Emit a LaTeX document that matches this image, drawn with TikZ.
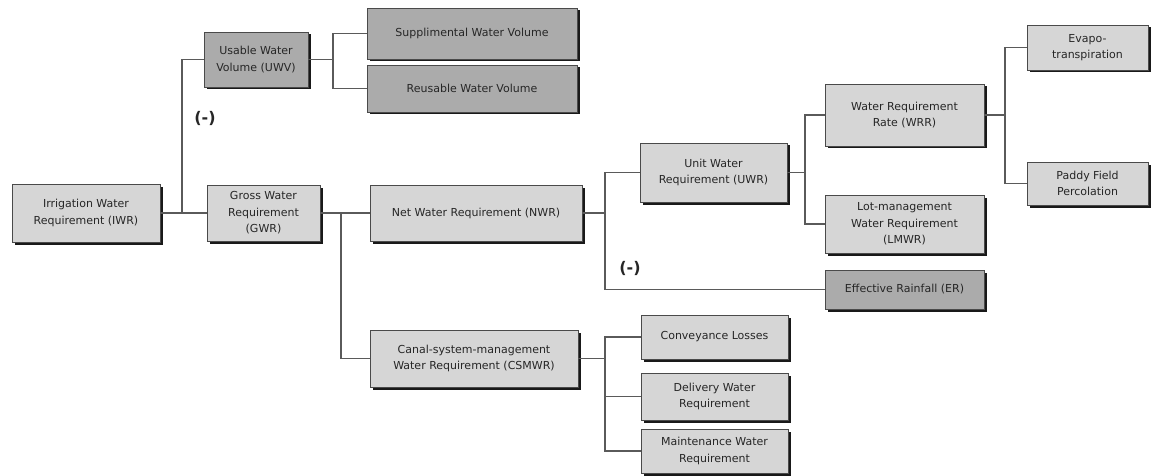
\documentclass[tikz,border=0pt]{standalone}
\usepackage{fontspec}
\setmainfont{DejaVu Sans}
\usetikzlibrary{shadows}
\definecolor{boxlight}{HTML}{D6D6D6}
\definecolor{boxdark}{HTML}{ABABAB}
\definecolor{edgecol}{HTML}{4A4A4A}
\definecolor{linecol}{HTML}{5A5A5A}
\definecolor{txtcol}{HTML}{262626}
\tikzset{
  box/.style={draw=edgecol, line width=0.9pt, fill=boxlight, rectangle, inner sep=0pt,
    align=center, text=txtcol, font=\fontsize{11}{16.5}\selectfont,
    drop shadow={shadow xshift=2.5pt, shadow yshift=-2.5pt, fill=black!90, opacity=1}},
  darkbox/.style={box, fill=boxdark},
  conn/.style={draw=linecol, line width=1.4pt},
  minus/.style={font=\fontsize{16}{16}\selectfont\bfseries, text=black!85}
}
\begin{document}
\begin{tikzpicture}[x=1pt, y=-1pt]
\useasboundingbox (0,0) rectangle (1151,476);
% nodes
\node[box, minimum width=148pt, minimum height=58pt] (iwr) at (86,213) {Irrigation Water\\Requirement (IWR)};
\node[darkbox, minimum width=104pt, minimum height=55pt] (uwv) at (256,59.5) {Usable Water\\Volume (UWV)};
\node[darkbox, minimum width=210pt, minimum height=51pt] (supp) at (472,33.5) {Supplimental Water Volume};
\node[darkbox, minimum width=210pt, minimum height=47pt] (reus) at (472,88.5) {Reusable Water Volume};
\node[box, minimum width=113pt, minimum height=56pt] (gwr) at (263.5,213) {Gross Water\\Requirement\\(GWR)};
\node[box, minimum width=212pt, minimum height=56pt] (nwr) at (476,213) {Net Water Requirement (NWR)};
\node[box, minimum width=147pt, minimum height=59pt] (uwr) at (713.5,172.5) {Unit Water\\Requirement (UWR)};
\node[box, minimum width=159pt, minimum height=62pt] (wrr) at (904.5,115) {Water Requirement\\Rate (WRR)};
\node[box, minimum width=159pt, minimum height=58pt] (lmwr) at (904.5,224) {Lot-management\\Water Requirement\\(LMWR)};
\node[darkbox, minimum width=159pt, minimum height=39pt] (er) at (904.5,289.5) {Effective Rainfall (ER)};
\node[box, minimum width=121pt, minimum height=45pt] (evapo) at (1087.5,47.5) {Evapo-\\transpiration};
\node[box, minimum width=121pt, minimum height=43pt] (paddy) at (1087.5,183.5) {Paddy Field\\Percolation};
\node[box, minimum width=208pt, minimum height=57pt] (csmwr) at (474,358.5) {Canal-system-management\\Water Requirement (CSMWR)};
\node[box, minimum width=147pt, minimum height=44pt] (conv) at (714.5,337) {Conveyance Losses};
\node[box, minimum width=147pt, minimum height=47pt] (deliv) at (714.5,396.5) {Delivery Water\\Requirement};
\node[box, minimum width=147pt, minimum height=44pt] (maint) at (714.5,451) {Maintenance Water\\Requirement};
% labels
\node[minus] (m1) at (205,118) {(-)};
\node[minus] (m2) at (630,268) {(-)};
% junction coordinates
\coordinate (j1) at (182,213);
\coordinate (j2) at (333,59.5);
\coordinate (j3) at (341,213);
\coordinate (j4) at (605,213);
\coordinate (j5) at (805,172.5);
\coordinate (j6) at (1005,115);
\coordinate (j7) at (605,358.5);
% connectors
\draw[conn] (iwr.east) -- (gwr.west);
\draw[conn] (j1) |- (uwv.west);
\draw[conn] (uwv.east) -- (j2);
\draw[conn] (j2) |- (supp.west);
\draw[conn] (j2) |- (reus.west);
\draw[conn] (gwr.east) -- (nwr.west);
\draw[conn] (j3) |- (csmwr.west);
\draw[conn] (nwr.east) -- (j4);
\draw[conn] (j4) |- (uwr.west);
\draw[conn] (j4) |- (er.west);
\draw[conn] (uwr.east) -- (j5);
\draw[conn] (j5) |- (wrr.west);
\draw[conn] (j5) |- (lmwr.west);
\draw[conn] (wrr.east) -- (j6);
\draw[conn] (j6) |- (evapo.west);
\draw[conn] (j6) |- (paddy.west);
\draw[conn] (csmwr.east) -- (j7);
\draw[conn] (j7) |- (conv.west);
\draw[conn] (j7) |- (deliv.west);
\draw[conn] (j7) |- (maint.west);
\end{tikzpicture}
\end{document}
